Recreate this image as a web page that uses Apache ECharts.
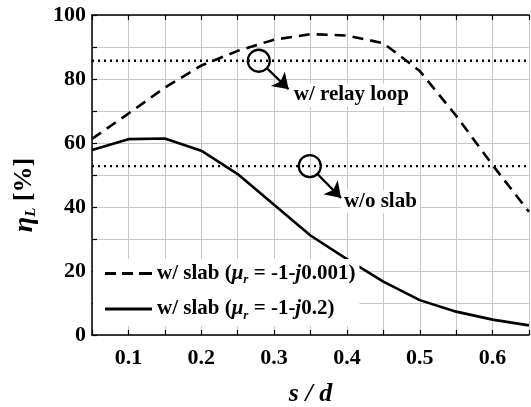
<!DOCTYPE html>
<html>
<head>
<meta charset="utf-8">
<script src="https://cdn.jsdelivr.net/npm/echarts@6/dist/echarts.min.js"></script>
<style>
  html, body { margin: 0; padding: 0; background: #fff; }
  #chart { width: 531px; height: 407px; }
</style>
</head>
<body>
<div id="chart"></div>
<script>
// s/d sample points
const sd = [0.05, 0.1, 0.15, 0.2, 0.25, 0.3, 0.35, 0.4, 0.45, 0.5, 0.55, 0.6, 0.65];
// eta_L [%]
const slabLowLoss = [61.3, 69.2, 77.3, 84.2, 88.8, 92.3, 94.0, 93.6, 91.2, 82.5, 68.5, 53.1, 38.5];
const slabHighLoss = [57.8, 61.2, 61.4, 57.6, 50.3, 40.7, 31.1, 23.7, 16.7, 10.9, 7.3, 4.8, 3.0];
// horizontal reference levels
const relayLoopLevel = 85.7;
const noSlabLevel = 52.8;
const xRange = [0.05, 0.65];

// annotations (data coords)
const circles = [[0.279, 85.7], [0.349, 52.8]];
const arrows = [
  [[0.290, 83.4], [0.320, 76.8]],
  [[0.360, 50.2], [0.392, 42.8]]
];
const notes = [
  [0.406, 75.0, 'w/ relay loop'],
  [0.446, 41.7, 'w/o slab']
];

const NAME_LOW = 'w/ slab (mu=-1-j0.001)';
const NAME_HIGH = 'w/ slab (mu=-1-j0.2)';
const legendText = {};
legendText[NAME_LOW] = 'w/ slab ({it|\u03bc}{sub|r} = -1-{it|j}0.001)';
legendText[NAME_HIGH] = 'w/ slab ({it|\u03bc}{sub|r} = -1-{it|j}0.2)';

const FONT = 'Liberation Serif';
const richStyles = {
  it: { fontFamily: FONT, fontStyle: 'italic', fontWeight: 'bold', fontSize: 21, color: '#000' },
  sub: { fontFamily: FONT, fontStyle: 'italic', fontWeight: 'bold', fontSize: 13, color: '#000', padding: [13, 0, 0, 0] }
};

// legend samples: dashed and solid strokes
const dashIcon = 'path://M0,0h11v3h-11z M17,0h11v3h-11z M34,0h13v3h-13z';
const solidIcon = 'path://M0,0h47v3h-47z';

function pairs(ys) {
  return sd.map((x, i) => [x, ys[i]]);
}

const chart = echarts.init(document.getElementById('chart'));

const axisLine = { show: true, lineStyle: { color: '#000', width: 1.5 } };
const tick = { show: true, inside: true, length: 5, lineStyle: { color: '#000', width: 1.2 } };
const labelFont = { fontFamily: FONT, fontWeight: 'bold', fontSize: 21, color: '#000' };
const tickFont = { fontFamily: FONT, fontWeight: 'bold', fontSize: 22, color: '#000' };

chart.setOption({
  animation: false,
  backgroundColor: '#fff',
  grid: { left: 92, right: 2, top: 15, bottom: 72, containLabel: false, outerBoundsMode: 'none' },
  xAxis: [{
    type: 'value', min: xRange[0], max: xRange[1], interval: 0.05,
    axisLine: axisLine, axisTick: tick,
    splitLine: { show: true, lineStyle: { color: '#c8c8c8', width: 1 } },
    axisLabel: Object.assign({
      margin: 12,
      formatter: v => (Math.round(v * 20) % 2 === 0 ? v.toFixed(1) : '')
    }, tickFont),
    name: '{it|s / d}', nameLocation: 'middle', nameGap: 46,
    nameTextStyle: { rich: { it: { fontFamily: FONT, fontStyle: 'italic', fontWeight: 'bold', fontSize: 26, color: '#000' } } }
  }, {
    type: 'value', position: 'top', min: xRange[0], max: xRange[1], interval: 0.05,
    axisLine: axisLine, axisTick: tick, axisLabel: { show: false }, splitLine: { show: false }
  }],
  yAxis: [{
    type: 'value', min: 0, max: 100, interval: 10,
    axisLine: axisLine, axisTick: tick,
    splitLine: { show: true, lineStyle: { color: '#c8c8c8', width: 1 } },
    axisLabel: Object.assign({
      margin: 6,
      formatter: v => (v % 20 === 0 ? String(v) : '')
    }, tickFont),
    name: '{it|\u03b7}{sub|L} [%]', nameLocation: 'middle', nameGap: 53,
    nameTextStyle: {
      fontFamily: FONT, fontWeight: 'bold', fontSize: 26, color: '#000',
      padding: [0, 40, 0, 0],
      rich: {
        it: { fontFamily: FONT, fontStyle: 'italic', fontWeight: 'bold', fontSize: 28, color: '#000' },
        sub: { fontFamily: FONT, fontStyle: 'italic', fontWeight: 'bold', fontSize: 15, color: '#000', padding: [14, 0, 0, 0] }
      }
    }
  }],
  legend: {
    data: [{ name: NAME_LOW, icon: dashIcon }, { name: NAME_HIGH, icon: solidIcon }],
    orient: 'vertical', left: 93, top: 259,
    backgroundColor: '#fff', padding: [4, 4, 4, 12],
    itemWidth: 47, itemHeight: 3, itemGap: 12,
    formatter: name => legendText[name],
    textStyle: Object.assign({ rich: richStyles }, labelFont)
  },
  series: [
    {
      name: 'relay', type: 'line', data: [[xRange[0], relayLoopLevel], [xRange[1], relayLoopLevel]],
      symbol: 'none', silent: true,
      lineStyle: { color: '#000', width: 2.3, type: [2, 4] }
    },
    {
      name: 'noslab', type: 'line', data: [[xRange[0], noSlabLevel], [xRange[1], noSlabLevel]],
      symbol: 'none', silent: true,
      lineStyle: { color: '#000', width: 2.3, type: [2, 4] }
    },
    {
      name: NAME_LOW, type: 'line', data: pairs(slabLowLoss), symbol: 'none',
      lineStyle: { color: '#000', width: 2.6, type: [11, 7] }, itemStyle: { color: '#000' }
    },
    {
      name: NAME_HIGH, type: 'line', data: pairs(slabHighLoss), symbol: 'none',
      lineStyle: { color: '#000', width: 2.6, type: 'solid' }, itemStyle: { color: '#000' }
    },
    {
      name: 'circles', type: 'scatter', data: circles, symbol: 'circle', symbolSize: 22, silent: true,
      itemStyle: { color: 'rgba(0,0,0,0)', borderColor: '#000', borderWidth: 2.3, opacity: 1 }, z: 5
    },
    {
      name: 'arrows', type: 'lines', coordinateSystem: 'cartesian2d', silent: true,
      data: arrows.map(a => ({ coords: a })),
      symbol: ['none', 'arrow'], symbolSize: 15,
      lineStyle: { color: '#000', width: 2.2, opacity: 1 }, z: 5
    },
    {
      name: 'notes', type: 'scatter', symbolSize: 0, silent: true, z: 4,
      itemStyle: { opacity: 1 },
      data: notes.map(n => ({ value: [n[0], n[1]], name: n[2] })),
      label: Object.assign({
        show: true, position: 'inside', formatter: p => p.name,
        backgroundColor: '#fff', padding: [1, 3], opacity: 1
      }, labelFont)
    }
  ]
});
</script>
</body>
</html>
